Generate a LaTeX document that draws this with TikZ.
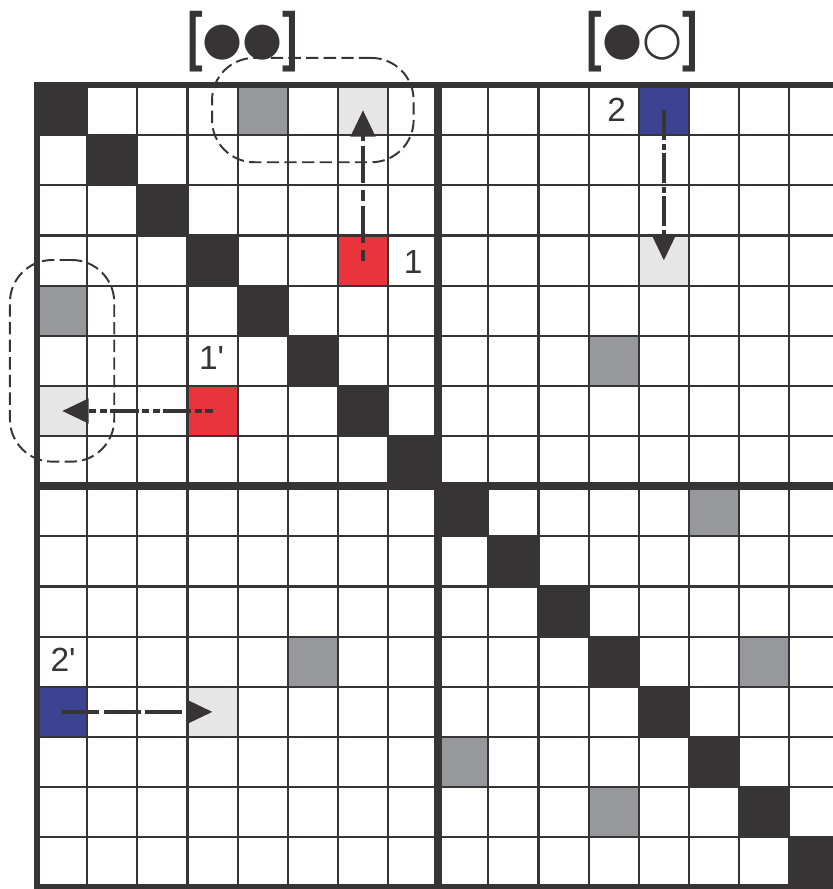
\documentclass[tikz,border=0pt]{standalone}
\usepackage{fontspec}
\setmainfont{Liberation Sans}
\newfontfamily\simbfont{DejaVu Sans}
\newfontfamily\colchfont{Liberation Sans}[FakeStretch=0.72]
\usetikzlibrary{arrows.meta, positioning}

\definecolor{escuro}{HTML}{373435}
\definecolor{cinza}{HTML}{97989C}
\definecolor{claro}{HTML}{E6E6E6}
\definecolor{vermelho}{HTML}{E8343A}
\definecolor{azul}{HTML}{3C4392}

\newcommand{\circtit}[1]{\raisebox{2.4pt}{\simbfont\fontsize{26}{26}\selectfont #1}}

\tikzset{
  celula/.style={minimum size=1cm, inner sep=0pt, draw=none},
  rotulo/.style={font=\fontsize{19}{19}\selectfont, text=escuro, inner sep=0pt},
  titulo/.style={font=\colchfont\fontsize{37}{37}\selectfont\bfseries, text=escuro, inner sep=0pt},
  grupo/.style={draw=escuro, line width=1.1pt, dash pattern=on 7pt off 3pt, rounded corners=24pt, inner sep=0pt},
  seta/.style={draw=escuro, line width=2.6pt, -{Triangle[length=15pt, width=13.5pt]}},
}

\begin{document}
\begin{tikzpicture}

    % Area visivel
    \useasboundingbox (-0.738,1.695) rectangle (15.872,-16.032);
    \clip (-0.738,1.695) rectangle (15.872,-16.032);

    % Diagonal escura
    \foreach \k in {0,...,15}
        \fill[escuro] (\k,-\k) rectangle ++(1,-1);

    % Celulas cinzentas
    \foreach \x/\y in {4/0, 0/4, 11/5, 5/11, 13/8, 8/13, 14/11, 11/14}
        \fill[cinza] (\x,-\y) rectangle ++(1,-1);

    % Celulas de origem e destino
    \node[celula, fill=vermelho] (ver1) at (6.5,-3.5) {};
    \node[celula, fill=claro] (cla1) at (6.5,-0.5) {};
    \node[celula, fill=vermelho] (ver2) at (3.5,-6.5) {};
    \node[celula, fill=claro] (cla2) at (0.5,-6.5) {};
    \node[celula, fill=azul] (azu1) at (12.5,-0.5) {};
    \node[celula, fill=claro] (cla3) at (12.5,-3.5) {};
    \node[celula, fill=azul] (azu2) at (0.5,-12.5) {};
    \node[celula, fill=claro] (cla4) at (3.5,-12.5) {};

    % Grade
    \draw[escuro, line width=1.2pt] (0,0) grid (16,-16);
    \draw[escuro, line width=4.5pt] (8,0) -- (8,-16) (0,-8) -- (16,-8);
    \draw[escuro, line width=3.4pt] (0,0) rectangle (16,-16);

    % Grupos tracejados
    \node[grupo, minimum width=4.02cm, minimum height=2.08cm] (grp1) at (5.5,-0.5) {};
    \node[grupo, minimum width=2.08cm, minimum height=4.02cm] (grp2) at (0.5,-5.5) {};

    % Setas
    \draw[seta, dash pattern=on 6pt off 4pt on 21pt off 3pt] (ver1.center) -- (cla1.center);
    \draw[seta, dash pattern=on 17pt off 2pt on 3.5pt off 2pt] (azu1.center) -- (cla3.center);
    \draw[seta, dash pattern=on 4pt off 2pt on 4pt off 2pt on 16pt off 2pt] (ver2.center) -- (cla2.center);
    \draw[seta, dash pattern=on 21pt off 2.5pt] (azu2.center) -- (cla4.center);

    % Rotulos
    \node[rotulo] (lab1) at (7.5,-3.53) {1};
    \node[rotulo] (lab1p) at (3.48,-5.44) {1\textquotesingle};
    \node[rotulo] (lab2) at (11.56,-0.49) {2};
    \node[rotulo] (lab2p) at (0.52,-11.47) {2\textquotesingle};

    % Titulos
    \node[titulo] (tit1) at (4.10,0.867) {[\circtit{●●}]};
    \node[titulo] (tit2) at (12.07,0.867) {[\circtit{●○}]};

\end{tikzpicture}
\end{document}
